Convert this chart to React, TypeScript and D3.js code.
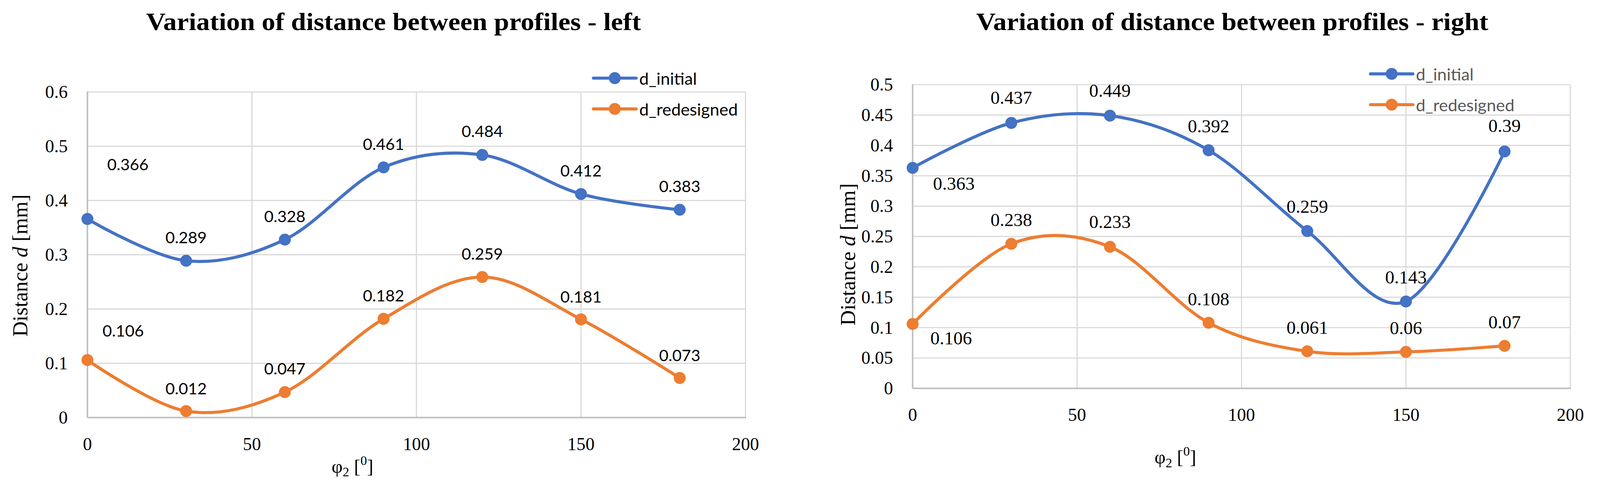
import React from 'react';
import * as d3 from 'd3';

const PHI = [0, 30, 60, 90, 120, 150, 180];
const LEFT_INITIAL = [0.366, 0.289, 0.328, 0.461, 0.484, 0.412, 0.383];
const LEFT_REDESIGNED = [0.106, 0.012, 0.047, 0.182, 0.259, 0.181, 0.073];
const RIGHT_INITIAL = [0.363, 0.437, 0.449, 0.392, 0.259, 0.143, 0.39];
const RIGHT_REDESIGNED = [0.106, 0.238, 0.233, 0.108, 0.061, 0.06, 0.07];
const X_TICKS = [0, 50, 100, 150, 200];
const LEFT_Y_TICKS = [0, 0.1, 0.2, 0.3, 0.4, 0.5, 0.6];
const RIGHT_Y_TICKS = [0, 0.05, 0.1, 0.15, 0.2, 0.25, 0.3, 0.35, 0.4, 0.45, 0.5];
const SERIES_NAMES = ['d_initial', 'd_redesigned'];
const TITLES = ['Variation of distance between profiles - left', 'Variation of distance between profiles - right'];

// label placement tweaks (pixels), default above the point
const LABEL_SHIFT_LEFT_INITIAL: [number, number][] = [[105, -143], [0, -62], [0, -62], [0, -62], [0, -63], [0, -62], [0, -62]];
const LABEL_SHIFT_LEFT_REDESIGNED: [number, number][] = [[93, -77], [0, -60], [0, -62], [0, -61], [0, -61], [0, -60], [0, -60]];
const LABEL_SHIFT_RIGHT_INITIAL: [number, number][] = [[107, 41], [0, -66], [0, -65], [0, -63], [0, -64], [0, -63], [0, -67]];
const LABEL_SHIFT_RIGHT_REDESIGNED: [number, number][] = [[100, 37], [0, -62], [0, -65], [0, -62], [0, -62], [0, -62], [0, -62]];

const COLORS = ['#4472C4', '#ED7D31'];
const SERIF = '"Liberation Serif", "Times New Roman", serif';
const SANS = 'Lato, Carlito, Calibri, sans-serif';

type ChartCfg = {
  title: string;
  titleX: number;
  titleW: number;
  plot: { x0: number; x1: number; y0: number; y1: number };
  yMax: number;
  yTicks: number[];
  series: number[][];
  shifts: [number, number][][];
  labelFont: string;
  labelSize: number;
  legend: { lx0: number; lx1: number; tx: number; ys: number[]; color: string };
  yTitle: { x: number; cy: number };
  xTitle: { x: number; y: number };
};

const fmt = (v: number) => d3.format('.3~f')(v);

function Chart({ cfg }: { cfg: ChartCfg }) {
  const { plot } = cfg;
  const x = d3.scaleLinear().domain([0, 200]).range([plot.x0, plot.x1]);
  const y = d3.scaleLinear().domain([0, cfg.yMax]).range([plot.y1, plot.y0]);
  const line = d3
    .line<number>()
    .x((_, i) => x(PHI[i]))
    .y((d) => y(d))
    .curve(d3.curveCatmullRom.alpha(0));

  return (
    <g>
      <text
        x={cfg.titleX}
        y={78}
        textAnchor="middle"
        fontFamily={SERIF}
        fontWeight="bold"
        fontSize={64}
        textLength={cfg.titleW}
        lengthAdjust="spacingAndGlyphs"
        fill="#000"
      >
        {cfg.title}
      </text>

      {cfg.yTicks.map((t) => (
        <line key={'gy' + t} x1={plot.x0} x2={plot.x1} y1={y(t)} y2={y(t)} stroke="#D9D9D9" strokeWidth={3} />
      ))}
      {X_TICKS.filter((t) => t > 0).map((t) => (
        <line key={'gx' + t} x1={x(t)} x2={x(t)} y1={plot.y0} y2={plot.y1} stroke="#D9D9D9" strokeWidth={3} />
      ))}
      <line x1={plot.x0} x2={plot.x0} y1={plot.y0 - 1.5} y2={plot.y1} stroke="#BFBFBF" strokeWidth={4} />
      <line x1={plot.x0} x2={plot.x1 + 1.5} y1={plot.y1} y2={plot.y1} stroke="#BFBFBF" strokeWidth={4} />

      {cfg.yTicks.map((t) => (
        <text key={'ty' + t} x={plot.x0 - 51} y={y(t)} textAnchor="end" dominantBaseline="central" fontFamily={SERIF} fontSize={47} fill="#000">
          {fmt(t)}
        </text>
      ))}
      {X_TICKS.map((t) => (
        <text key={'tx' + t} x={x(t)} y={plot.y1 + 69} textAnchor="middle" dominantBaseline="central" fontFamily={SERIF} fontSize={47} fill="#000">
          {t}
        </text>
      ))}

      <text
        transform={`translate(${cfg.yTitle.x},${cfg.yTitle.cy}) rotate(-90)`}
        textAnchor="middle"
        fontFamily={SERIF}
        fontSize={55}
        fill="#000"
      >
        Distance <tspan fontStyle="italic">d</tspan> [mm]
      </text>
      <text x={cfg.xTitle.x} y={cfg.xTitle.y} fontFamily={SERIF} fontSize={50} fill="#000">
        φ<tspan fontSize={34} dy={10}>2</tspan>
        <tspan dy={-10}> [</tspan>
        <tspan fontSize={34} dy={-20}>0</tspan>
        <tspan dy={20}>]</tspan>
      </text>

      {cfg.series.map((vals, si) => (
        <g key={'s' + si}>
          <path d={line(vals) || ''} fill="none" stroke={COLORS[si]} strokeWidth={8} strokeLinecap="round" />
          {vals.map((v, i) => (
            <circle key={i} cx={x(PHI[i])} cy={y(v)} r={15.5} fill={COLORS[si]} />
          ))}
          {vals.map((v, i) => (
            <text
              key={'l' + i}
              x={x(PHI[i]) + cfg.shifts[si][i][0]}
              y={y(v) + cfg.shifts[si][i][1]}
              textAnchor="middle"
              dominantBaseline="central"
              fontFamily={cfg.labelFont}
              fontSize={cfg.labelSize}
              fill="#000"
            >
              {String(v)}
            </text>
          ))}
        </g>
      ))}

      {SERIES_NAMES.map((name, si) => (
        <g key={'lg' + si}>
          <line x1={cfg.legend.lx0} x2={cfg.legend.lx1} y1={cfg.legend.ys[si]} y2={cfg.legend.ys[si]} stroke={COLORS[si]} strokeWidth={8} strokeLinecap="round" />
          <circle cx={(cfg.legend.lx0 + cfg.legend.lx1) / 2} cy={cfg.legend.ys[si]} r={15.5} fill={COLORS[si]} />
          <text x={cfg.legend.tx} y={cfg.legend.ys[si]} dominantBaseline="central" fontFamily={SANS} fontSize={44} fill={cfg.legend.color}>
            {name}
          </text>
        </g>
      ))}
    </g>
  );
}

export default function App() {
  const left: ChartCfg = {
    title: TITLES[0],
    titleX: 1022,
    titleW: 1285,
    plot: { x0: 227, x1: 1936, y0: 239, y1: 1085 },
    yMax: 0.6,
    yTicks: LEFT_Y_TICKS,
    series: [LEFT_INITIAL, LEFT_REDESIGNED],
    shifts: [LABEL_SHIFT_LEFT_INITIAL, LABEL_SHIFT_LEFT_REDESIGNED],
    labelFont: SANS,
    labelSize: 42,
    legend: { lx0: 1541, lx1: 1652, tx: 1660, ys: [203, 283], color: '#000' },
    yTitle: { x: 71, cy: 690 },
    xTitle: { x: 861, y: 1228 },
  };
  const right: ChartCfg = {
    title: TITLES[1],
    titleX: 3200,
    titleW: 1330,
    plot: { x0: 2370, x1: 4078, y0: 220, y1: 1009 },
    yMax: 0.5,
    yTicks: RIGHT_Y_TICKS,
    series: [RIGHT_INITIAL, RIGHT_REDESIGNED],
    shifts: [LABEL_SHIFT_RIGHT_INITIAL, LABEL_SHIFT_RIGHT_REDESIGNED],
    labelFont: SERIF,
    labelSize: 48,
    legend: { lx0: 3559, lx1: 3669, tx: 3677, ys: [192, 272], color: '#595959' },
    yTitle: { x: 2221, cy: 661 },
    xTitle: { x: 2998, y: 1204 },
  };
  return (
    <svg
      viewBox="0 0 4155 1273"
      preserveAspectRatio="xMinYMin meet"
      style={{ position: 'fixed', left: 0, top: 0, width: '100vw', height: '100vh', background: '#fff', display: 'block' }}
    >
      <rect x={0} y={0} width={4155} height={1273} fill="#fff" />
      <Chart cfg={left} />
      <Chart cfg={right} />
    </svg>
  );
}
